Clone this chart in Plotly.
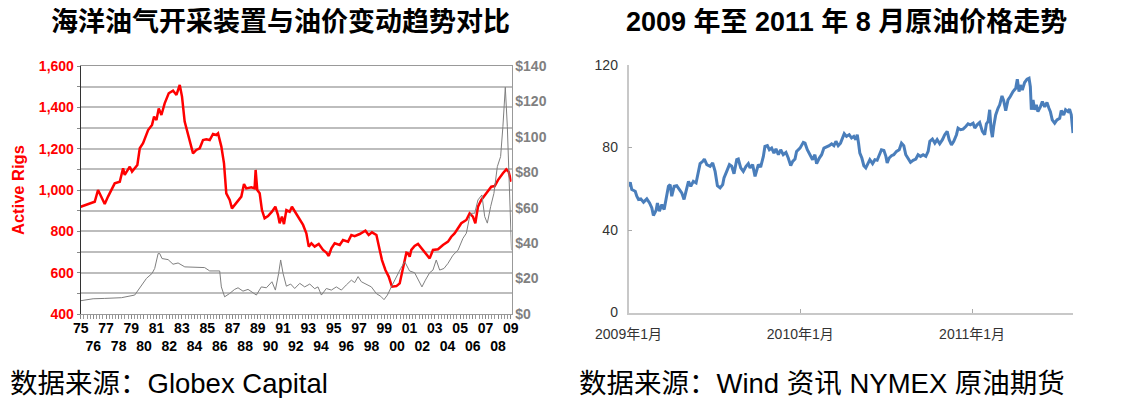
import plotly.graph_objects as go

FONT = "Liberation Sans, Arial, Noto Sans CJK SC, sans-serif"

# left chart: offshore rig count (left axis) and oil price (right axis), decimal years
rig_year = [1975.0, 1975.32, 1975.72, 1976.11, 1976.37, 1976.9, 1977.16, 1977.69, 1978.09, 1978.35,
            1978.48, 1978.88, 1979.06, 1979.48, 1979.67, 1979.93, 1980.33, 1980.64, 1980.8, 1980.99,
            1981.17, 1981.38, 1981.64, 1981.96, 1982.3, 1982.57, 1982.83, 1983.01, 1983.22, 1983.48,
            1983.88, 1984.14, 1984.41, 1984.67, 1984.93, 1985.2, 1985.46, 1985.72, 1985.86, 1986.12,
            1986.33, 1986.51, 1986.78, 1986.96, 1987.3, 1987.7, 1987.91, 1988.09, 1988.49, 1988.75,
            1988.83, 1988.96, 1989.15, 1989.33, 1989.54, 1989.81, 1990.12, 1990.39, 1990.6, 1990.73,
            1990.91, 1991.07, 1991.26, 1991.52, 1991.7, 1991.85, 1992.0, 1992.18, 1992.58, 1992.84,
            1993.03, 1993.24, 1993.5, 1993.82, 1994.16, 1994.42, 1994.61, 1994.82, 1995.08, 1995.48,
            1995.74, 1996.14, 1996.4, 1996.66, 1997.06, 1997.51, 1997.77, 1998.03, 1998.38, 1998.64,
            1998.82, 1999.09, 1999.35, 1999.61, 1999.96, 2000.22, 2000.48, 2000.75, 2000.87, 2001.01,
            2001.14, 2001.4, 2001.67, 2001.93, 2002.33, 2002.59, 2002.85, 2003.25, 2003.64, 2004.04,
            2004.3, 2004.56, 2004.83, 2005.09, 2005.49, 2005.75, 2006.01, 2006.2, 2006.41, 2006.67,
            2007.07, 2007.46, 2007.73, 2007.99, 2008.38, 2008.65, 2008.83, 2009.04]
rig_count = [919, 926, 935, 943, 1000, 932, 968, 1032, 1040, 1105,
             1073, 1113, 1089, 1121, 1202, 1226, 1290, 1315, 1355, 1339,
             1395, 1363, 1419, 1468, 1481, 1460, 1508, 1452, 1331, 1274,
             1177, 1194, 1202, 1242, 1245, 1242, 1271, 1266, 1274, 1210,
             1129, 984, 952, 911, 935, 968, 1029, 1008, 1013, 1008,
             1097, 1000, 984, 903, 863, 874, 895, 919, 879, 839,
             871, 835, 903, 895, 919, 905, 890, 871, 831, 790,
             726, 742, 726, 739, 710, 697, 681, 718, 742, 734,
             758, 750, 782, 777, 787, 803, 782, 795, 782, 710,
             661, 613, 581, 532, 535, 548, 629, 697, 694, 677,
             710, 729, 739, 718, 686, 669, 710, 713, 734, 750,
             774, 790, 815, 839, 855, 887, 871, 839, 919, 952,
             984, 1016, 1019, 1048, 1081, 1100, 1089, 1040]

oil_year = [1975.0, 1975.98, 1976.9, 1978.22, 1979.27, 1979.54, 1980.2, 1980.64, 1980.85, 1981.12,
            1981.25, 1981.43, 1981.91, 1982.3, 1982.7, 1983.23, 1984.8, 1985.2, 1985.99, 1986.12,
            1986.38, 1986.78, 1987.17, 1987.44, 1987.83, 1988.23, 1988.62, 1988.89, 1989.28, 1989.68,
            1990.12, 1990.39, 1990.65, 1990.81, 1991.0, 1991.26, 1991.6, 1991.78, 1991.92, 1992.32,
            1992.71, 1993.11, 1993.5, 1993.76, 1994.03, 1994.42, 1994.82, 1995.21, 1995.61, 1996.0,
            1996.4, 1996.66, 1996.93, 1997.19, 1997.59, 1997.98, 1998.38, 1998.72, 1998.98, 1999.25,
            1999.56, 1999.96, 2000.3, 2000.62, 2001.0, 2001.4, 2001.8, 2001.98, 2002.25, 2002.59,
            2002.85, 2003.11, 2003.38, 2003.72, 2004.04, 2004.43, 2004.83, 2005.22, 2005.49, 2005.75,
            2005.88, 2006.15, 2006.41, 2006.72, 2006.94, 2007.15, 2007.41, 2007.67, 2007.94, 2008.2,
            2008.38, 2008.57, 2008.73, 2008.83, 2008.99, 2009.06]
oil_price = [7.5, 8.6, 8.8, 9.2, 10.7, 13.5, 20.1, 22.9, 25.7, 34.1,
             34.1, 31.3, 30.7, 28.1, 28.8, 26.6, 26.2, 24.3, 24.3, 15.3,
             9.7, 11.6, 13.9, 14.8, 12.9, 13.9, 12.0, 10.7, 15.3, 14.8,
             18.2, 13.5, 22.9, 30.5, 22.9, 15.7, 16.9, 15.3, 14.4, 17.3,
             15.3, 16.9, 14.3, 15.3, 10.7, 14.4, 13.5, 15.3, 13.5, 16.4,
             19.1, 17.7, 21.1, 18.2, 16.9, 15.3, 11.5, 10.0, 8.1, 10.7,
             15.3, 21.1, 25.7, 29.5, 24.3, 23.3, 17.7, 15.3, 19.1, 23.3,
             24.8, 30.5, 24.8, 25.7, 28.6, 33.2, 36.0, 42.7, 45.6, 55.0,
             56.9, 56.9, 64.4, 67.2, 55.0, 51.3, 60.6, 68.1, 83.2, 88.9,
             105.8, 128.0, 105.8, 81.3, 49.4, 36.0]

year_ticks = list(range(1975, 2010))
year_text = [str(y)[2:] if y % 2 else "<br>" + str(y)[2:] for y in year_ticks]
rig_ticks = list(range(400, 1700, 100))
rig_text = [f"{v:,}" if v % 200 == 0 else "" for v in rig_ticks]

# right chart: NYMEX crude, x = months since Jan 2009
wti_month = [0.0, 0.12, 0.23, 0.47, 0.58, 0.7, 0.86, 1.05, 1.28, 1.47, 1.63, 1.74, 1.93, 2.02, 2.16,
             2.33, 2.49, 2.67, 2.79, 2.91, 3.02, 3.19, 3.37, 3.56, 3.72, 3.88, 4.07, 4.19, 4.35, 4.53,
             4.72, 4.88, 5.0, 5.19, 5.3, 5.47, 5.7, 5.88, 6.05, 6.21, 6.4, 6.58, 6.67, 6.86, 7.05,
             7.21, 7.37, 7.56, 7.67, 7.84, 8.02, 8.21, 8.37, 8.49, 8.67, 8.84, 8.95, 9.07, 9.23, 9.42,
             9.53, 9.7, 9.84, 10.0, 10.16, 10.3, 10.47, 10.63, 10.81, 11.0, 11.16, 11.33, 11.47, 11.63,
             11.74, 11.98, 12.21, 12.33, 12.49, 12.67, 12.86, 13.02, 13.14, 13.33, 13.49, 13.65, 13.84,
             14.02, 14.19, 14.35, 14.49, 14.65, 14.81, 14.95, 15.07, 15.23, 15.42, 15.58, 15.74, 15.88,
             15.98, 16.07, 16.16, 16.3, 16.44, 16.58, 16.74, 16.86, 17.05, 17.21, 17.37, 17.51, 17.67,
             17.84, 17.98, 18.07, 18.21, 18.37, 18.53, 18.72, 18.91, 19.07, 19.23, 19.37, 19.53, 19.7,
             19.88, 20.07, 20.23, 20.4, 20.58, 20.77, 20.93, 21.05, 21.23, 21.4, 21.56, 21.74, 21.93,
             22.09, 22.26, 22.4, 22.56, 22.72, 22.91, 23.02, 23.19, 23.37, 23.56, 23.72, 23.88, 24.07,
             24.19, 24.35, 24.53, 24.72, 24.88, 25.0, 25.12, 25.23, 25.33, 25.42, 25.51, 25.65, 25.81,
             25.93, 26.09, 26.21, 26.35, 26.51, 26.67, 26.86, 27.05, 27.16, 27.28, 27.37, 27.51, 27.67,
             27.84, 27.98, 28.07, 28.14, 28.26, 28.37, 28.49, 28.6, 28.77, 28.91, 29.07, 29.23, 29.37,
             29.47, 29.6, 29.77, 29.93, 30.12, 30.23, 30.4, 30.53, 30.7, 30.81, 30.93, 31.05]
wti_price = [61.2, 63.1, 59.6, 58.8, 56.4, 54.8, 55.1, 53.5, 55.1, 53.1, 50.7, 47.0, 49.6, 53.1, 49.1,
             52.3, 49.9, 56.4, 61.2, 62.0, 56.4, 61.2, 61.5, 59.6, 58.0, 54.8, 61.2, 63.6, 61.2, 63.6,
             62.8, 67.6, 72.2, 73.3, 74.4, 71.7, 70.9, 72.5, 68.4, 61.5, 60.4, 62.0, 65.2, 68.4, 71.7,
             70.9, 67.3, 74.1, 74.4, 70.1, 68.4, 70.9, 72.2, 70.1, 71.7, 66.0, 69.3, 71.7, 70.5, 75.7,
             80.5, 80.9, 78.9, 79.7, 77.3, 79.3, 76.5, 78.9, 76.5, 77.6, 74.9, 71.2, 73.3, 74.4,
             78.1, 79.7, 82.5, 82.1, 78.9, 76.5, 74.1, 76.5, 72.2, 74.9, 76.5, 79.7, 80.2,
             80.9, 81.8, 80.9, 83.0, 80.9, 82.1, 84.6, 86.7, 85.4, 86.2, 84.6, 85.4, 83.8,
             86.2, 82.1, 77.3, 74.9, 71.2, 70.1, 72.5, 74.1, 72.2, 74.1, 73.8, 76.5, 78.9,
             78.6, 75.7, 72.5, 74.9, 76.0, 76.5, 78.1, 78.9, 82.1, 80.9, 76.5, 74.9, 72.8,
             73.8, 74.4, 76.5, 75.7, 76.5, 75.7, 78.1, 83.0, 84.1, 82.1, 83.8, 81.8, 83.8,
             86.2, 87.8, 83.8, 81.3, 83.0, 86.2, 89.4, 88.6, 88.9, 90.2, 91.5, 91.0, 91.8,
             89.4, 91.0, 92.1, 87.8, 86.2, 91.5, 92.6, 98.3, 88.6, 85.0, 90.2, 95.8, 99.0,
             100.7, 105.0, 102.7, 97.9, 103.1, 104.7, 107.1, 108.7, 113.1, 107.1, 110.3, 107.9, 111.5,
             113.1, 113.6, 109.5, 98.3, 103.1, 98.3, 100.7, 97.4, 99.7, 102.3, 99.7, 101.8, 99.0,
             97.4, 93.4, 91.8, 93.4, 94.2, 97.9, 95.8, 98.3, 97.4, 98.6, 95.8, 87.0]
wti_ticks = [0, 12, 24]
wti_text = ["2009年1月", "2010年1月", "2011年1月"]

# page body adds an 8px margin, so the figure is a bit smaller than the window
W, H, OFF = 1115, 390, 8


def px(X):
    return (X - OFF) / W


def py(Y):
    return 1 - (Y - OFF) / H


fig = go.Figure()
fig.add_trace(go.Scatter(x=oil_year, y=oil_price, yaxis="y2", mode="lines",
                         line=dict(color="#7f7f7f", width=1), showlegend=False))
fig.add_trace(go.Scatter(x=rig_year, y=rig_count, mode="lines",
                         line=dict(color="#ff0000", width=2.5), showlegend=False))
fig.add_trace(go.Scatter(x=wti_month, y=wti_price, xaxis="x3", yaxis="y3", mode="lines",
                         line=dict(color="#4a7ebb", width=3), showlegend=False))

fig.update_layout(
    width=W, height=H, margin=dict(l=0, r=0, t=0, b=0),
    paper_bgcolor="white", plot_bgcolor="white",
    font=dict(family=FONT),
    xaxis=dict(domain=[px(80.7), px(511.5)], range=[1975, 2009.06], tickvals=year_ticks, ticktext=year_text,
               automargin=False, tickangle=0, ticks="outside", ticklen=4, tickcolor="#888",
               ticklabelstandoff=-3,
               showgrid=False, zeroline=False, showline=True, linecolor="#999", mirror=True,
               minor=dict(dtick=0.25, ticks="outside", ticklen=4, tickcolor="#999"),
               tickfont=dict(size=14, color="black", family=FONT, weight="bold")),
    yaxis=dict(domain=[py(314), py(66)], range=[400, 1600], tickvals=rig_ticks, ticktext=rig_text,
               automargin=False, showgrid=True, gridcolor="#bdbdbd", gridwidth=1.5, zeroline=False,
               showline=True, linecolor="#333", ticks="outside", ticklen=3, tickcolor="#888",
               tickfont=dict(size=14, color="#ff0000", family=FONT, weight="bold")),
    yaxis2=dict(overlaying="y", side="right", anchor="x", range=[0, 140], dtick=20, tickprefix="$",
                automargin=False, showgrid=False, zeroline=False, showline=True, linecolor="#999",
                tickfont=dict(size=14, color="#808080", family=FONT, weight="bold")),
    xaxis3=dict(domain=[px(628.5), px(1073)], anchor="y3", range=[0, 31.05], tickvals=wti_ticks,
                ticktext=wti_text, tickangle=0, ticks="inside", ticklen=4, tickcolor="#aaa",
                automargin=False, ticklabelstandoff=8,
                showgrid=False, zeroline=False, showline=True, linecolor="#c8c8c8", linewidth=1.5,
                tickfont=dict(size=14, color="#333")),
    yaxis3=dict(domain=[py(312.5), py(65)], anchor="x3", range=[0, 120], tickvals=[0, 40, 80, 120],
                automargin=False, ticklabelstandoff=6,
                ticks="inside", ticklen=4, tickcolor="#aaa", showgrid=False, zeroline=False,
                showline=True, linecolor="#c8c8c8", linewidth=1.5,
                tickfont=dict(size=14, color="#333")),
)

for text, xc in [("<b>海洋油气开采装置与油价变动趋势对比</b>", 280),
                 ("<b>2009 年至 2011 年 8 月原油价格走势</b>", 846)]:
    fig.add_annotation(text=text, x=px(xc), y=py(22), xref="paper", yref="paper",
                       showarrow=False, xanchor="center", yanchor="middle",
                       font=dict(size=27, color="black", family=FONT))
for text, xl in [("数据来源：Globex Capital", 8), ("数据来源：Wind 资讯 NYMEX 原油期货", 577)]:
    fig.add_annotation(text=text, x=px(xl), y=py(383), xref="paper", yref="paper",
                       showarrow=False, xanchor="left", yanchor="middle",
                       font=dict(size=27.5, color="black", family=FONT))
fig.add_annotation(text="<b>Active Rigs</b>", x=px(18), y=py(190), xref="paper", yref="paper",
                   showarrow=False, textangle=-90, xanchor="center", yanchor="middle",
                   font=dict(size=16.5, color="#ff0000", family=FONT))

fig.write_html("out.html")
